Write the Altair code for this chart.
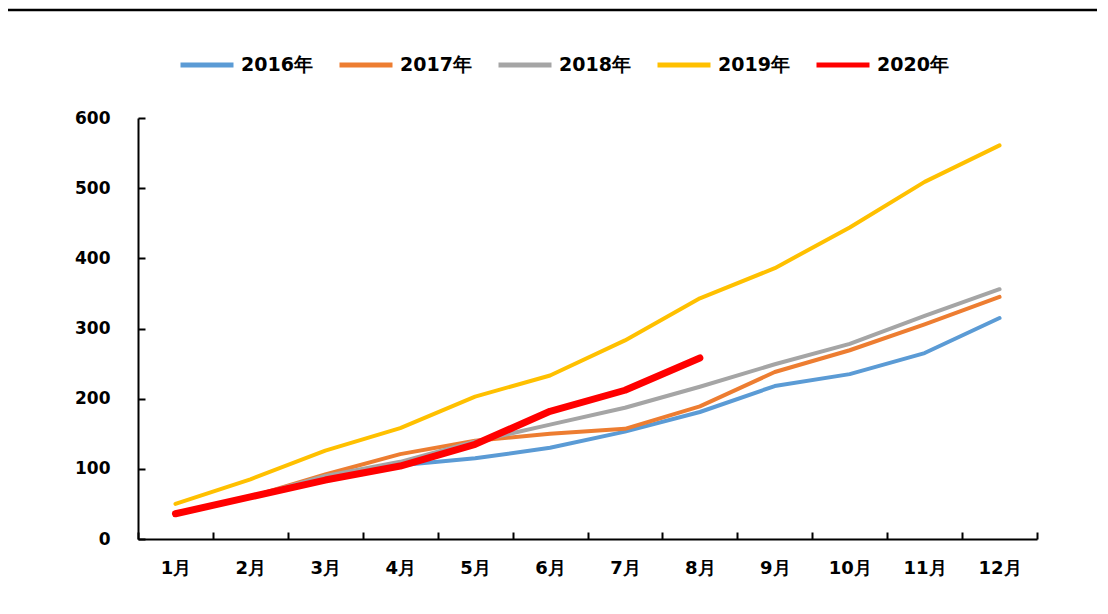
import altair as alt
import pandas as pd

months = ["1月", "2月", "3月", "4月", "5月", "6月", "7月", "8月", "9月", "10月", "11月", "12月"]
years = ["2016年", "2017年", "2018年", "2019年", "2020年"]
v2016 = [36, 60, 86, 105, 115, 130, 153, 181, 218, 235, 265, 315]
v2017 = [36, 60, 92, 121, 140, 150, 157, 189, 238, 269, 306, 345]
v2018 = [36, 60, 90, 110, 139, 163, 187, 217, 249, 278, 318, 356]
v2019 = [50, 85, 126, 158, 203, 233, 283, 343, 386, 444, 509, 561]
v2020 = [36, 60, 84, 104, 135, 182, 212, 258]
colors = ["#5B9BD5", "#ED7D31", "#A5A5A5", "#FFC000", "#FF0000"]

rows = []
for yr, vals in zip(years, [v2016, v2017, v2018, v2019, v2020]):
    for m, v in zip(months, vals):
        rows.append({"month": m, "year": yr, "value": v})
df = pd.DataFrame(rows)

FONT = "DejaVu Sans"

xscale = alt.Scale(type="band", domain=months, paddingInner=0, paddingOuter=0)
yscale = alt.Scale(domain=[0, 600])

lines = alt.Chart(df).mark_line(strokeCap="round", strokeJoin="round").encode(
    x=alt.X("month:N", sort=months, scale=xscale, bandPosition=0.5, title=None,
            axis=alt.Axis(orient="bottom", ticks=False, domain=True, domainColor="black",
                          domainWidth=2, labelAngle=0, labelFont=FONT, labelFontSize=18,
                          labelFontWeight="bold", labelColor="black", labelPadding=20,
                          grid=False, tickBand="extent")),
    y=alt.Y("value:Q", scale=yscale, title=None,
            axis=alt.Axis(orient="left", values=[0, 100, 200, 300, 400, 500, 600], ticks=False,
                          domain=True, domainColor="black", domainWidth=2, labelFont=FONT,
                          labelFontSize=17, labelFontWeight="bold", labelColor="black",
                          labelPadding=28, grid=False)),
    color=alt.Color("year:N", scale=alt.Scale(domain=years, range=colors), title=None,
                    legend=alt.Legend(orient="none", direction="horizontal", legendX=40,
                                      legendY=-82, symbolType="stroke", symbolSize=2809,
                                      symbolStrokeWidth=5,
                                      labelFont=FONT, labelFontSize=19, labelFontWeight="bold",
                                      labelColor="black", labelOffset=5, columnPadding=16,
                                      labelLimit=200)),
    strokeWidth=alt.condition("datum.year == '2020年'", alt.value(7), alt.value(4)),
)

ticks = alt.Chart(df).mark_point(opacity=0).encode(
    x=alt.X("month:N", sort=months, scale=xscale, title=None,
            axis=alt.Axis(orient="bottom", offset=-7, ticks=True, tickSize=7, tickWidth=2,
                          tickColor="black", domain=False, labels=False, grid=False,
                          tickBand="extent")),
    y=alt.Y("value:Q", scale=yscale, title=None,
            axis=alt.Axis(orient="left", offset=-7, values=[0, 100, 200, 300, 400, 500, 600],
                          ticks=True, tickSize=7, tickWidth=2, tickColor="black",
                          domain=False, labels=False, grid=False)),
)

topline = alt.Chart(pd.DataFrame({"a": [0]})).mark_rule(color="black", strokeWidth=2.5).encode(
    x=alt.value(-133), x2=alt.value(962), y=alt.value(-108)
)

chart = alt.layer(ticks, lines, topline).resolve_axis(
    x="independent", y="independent"
).properties(
    width=899, height=421, autosize="none",
    padding={"left": 130, "top": 110, "right": 60, "bottom": 60},
).configure_view(stroke=None)

chart.save("out.html", embed_options={"renderer": "svg", "actions": False})
